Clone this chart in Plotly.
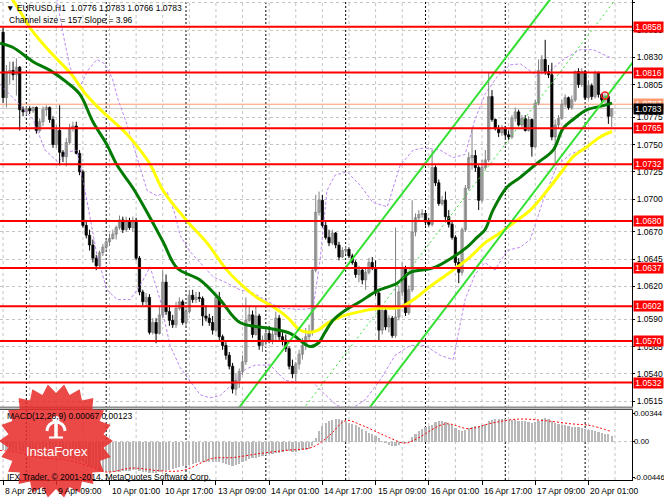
import math
import plotly.graph_objects as go

W, H = 664, 498
PLOT_R = 632  # right edge of chart area (px)

# ---------------- data ----------------
open_ = [
1.0853,1.0793,1.0817,1.0818,1.0814,1.0821,1.0782,1.0780,1.0783,1.0781,
1.0784,1.0763,1.0771,1.0782,1.0784,1.0773,1.0750,1.0763,1.0743,1.0739,
1.0752,1.0765,1.0767,1.0742,1.0725,1.0676,1.0667,1.0658,1.0646,1.0639,
1.0651,1.0656,1.0661,1.0664,1.0668,1.0674,1.0681,1.0672,1.0680,1.0674,
1.0679,1.0646,1.0615,1.0606,1.0610,1.0578,1.0587,1.0577,1.0594,1.0624,
1.0597,1.0589,1.0585,1.0600,1.0606,1.0587,1.0597,1.0612,1.0608,1.0610,
1.0609,1.0593,1.0591,1.0587,1.0580,1.0610,1.0574,1.0566,1.0557,1.0547,
1.0526,1.0534,1.0542,1.0551,1.0589,1.0594,1.0576,1.0593,1.0566,1.0571,
1.0577,1.0571,1.0576,1.0591,1.0574,1.0571,1.0563,1.0547,1.0540,1.0549,
1.0558,1.0566,1.0574,1.0578,1.0635,1.0688,1.0699,1.0676,1.0665,1.0660,
1.0669,1.0658,1.0647,1.0653,1.0654,1.0648,1.0642,1.0631,1.0635,1.0626,
1.0633,1.0642,1.0637,1.0614,1.0580,1.0598,1.0583,1.0591,1.0575,1.0592,
1.0615,1.0637,1.0596,1.0617,1.0670,1.0683,1.0686,1.0687,1.0679,1.0677,
1.0729,1.0715,1.0696,1.0699,1.0684,1.0677,1.0665,1.0642,1.0633,1.0672,
1.0710,1.0738,1.0740,1.0729,1.0699,1.0729,1.0736,1.0794,1.0773,1.0765,
1.0761,1.0765,1.0759,1.0757,1.0774,1.0780,1.0768,1.0774,1.0763,1.0773,
1.0748,1.0788,1.0818,1.0828,1.0817,1.0814,1.0757,1.0768,1.0774,1.0787,
1.0793,1.0784,1.0791,1.0817,1.0805,1.0817,1.0793,1.0804,1.0794,1.0816,
1.0796,1.0791,1.0794,1.0776]
high = [
1.0857,1.0823,1.0826,1.0826,1.0829,1.0822,1.0785,1.0785,1.0785,1.0785,
1.0785,1.0774,1.0785,1.0786,1.0785,1.0776,1.0768,1.0786,1.0745,1.0756,
1.0769,1.0771,1.0771,1.0745,1.0727,1.0681,1.0672,1.0663,1.0649,1.0653,
1.0659,1.0664,1.0668,1.0672,1.0676,1.0685,1.0684,1.0684,1.0683,1.0684,
1.0683,1.0648,1.0617,1.0614,1.0613,1.0591,1.0591,1.0603,1.0635,1.0631,
1.0603,1.0594,1.0606,1.0610,1.0608,1.0600,1.0617,1.0617,1.0615,1.0615,
1.0611,1.0603,1.0595,1.0593,1.0612,1.0615,1.0576,1.0569,1.0560,1.0550,
1.0540,1.0545,1.0557,1.0610,1.0603,1.0598,1.0602,1.0595,1.0575,1.0582,
1.0584,1.0580,1.0597,1.0594,1.0578,1.0576,1.0565,1.0553,1.0551,1.0562,
1.0573,1.0582,1.0585,1.0637,1.0704,1.0707,1.0704,1.0679,1.0672,1.0672,
1.0670,1.0661,1.0656,1.0657,1.0656,1.0650,1.0644,1.0639,1.0637,1.0637,
1.0646,1.0647,1.0644,1.0615,1.0603,1.0600,1.0594,1.0593,1.0674,1.0621,
1.0642,1.0639,1.0621,1.0699,1.0687,1.0690,1.0691,1.0688,1.0683,1.0745,
1.0731,1.0718,1.0703,1.0707,1.0690,1.0679,1.0667,1.0646,1.0674,1.0713,
1.0743,1.0766,1.0745,1.0731,1.0736,1.0745,1.0816,1.0800,1.0774,1.0768,
1.0768,1.0767,1.0763,1.0777,1.0784,1.0782,1.0777,1.0777,1.0776,1.0774,
1.0791,1.0828,1.0832,1.0846,1.0823,1.0825,1.0773,1.0777,1.0791,1.0796,
1.0794,1.0795,1.0818,1.0820,1.0820,1.0818,1.0809,1.0806,1.0818,1.0817,
1.0797,1.0797,1.0795,1.0783]
low = [
1.0788,1.0784,1.0805,1.0809,1.0795,1.0763,1.0776,1.0777,1.0778,1.0779,
1.0760,1.0761,1.0767,1.0776,1.0770,1.0747,1.0747,1.0731,1.0734,1.0730,
1.0750,1.0762,1.0741,1.0722,1.0674,1.0664,1.0653,1.0642,1.0635,1.0637,
1.0648,1.0653,1.0657,1.0663,1.0663,1.0672,1.0669,1.0670,1.0672,1.0670,
1.0644,1.0612,1.0603,1.0602,1.0576,1.0576,1.0568,1.0576,1.0591,1.0594,
1.0584,1.0582,1.0582,1.0598,1.0585,1.0583,1.0595,1.0605,1.0605,1.0606,
1.0584,1.0588,1.0584,1.0576,1.0578,1.0571,1.0562,1.0553,1.0544,1.0522,
1.0520,1.0527,1.0539,1.0548,1.0587,1.0573,1.0575,1.0562,1.0560,1.0566,
1.0568,1.0567,1.0571,1.0571,1.0566,1.0560,1.0544,1.0536,1.0533,1.0544,
1.0553,1.0562,1.0569,1.0575,1.0633,1.0685,1.0674,1.0663,1.0657,1.0658,
1.0655,1.0644,1.0646,1.0650,1.0646,1.0640,1.0628,1.0624,1.0622,1.0617,
1.0631,1.0635,1.0611,1.0571,1.0576,1.0580,1.0578,1.0573,1.0573,1.0589,
1.0611,1.0593,1.0594,1.0615,1.0666,1.0679,1.0683,1.0676,1.0675,1.0675,
1.0712,1.0694,1.0694,1.0681,1.0674,1.0663,1.0639,1.0623,1.0630,1.0670,
1.0708,1.0727,1.0725,1.0690,1.0697,1.0727,1.0734,1.0771,1.0763,1.0757,
1.0758,1.0756,1.0754,1.0755,1.0771,1.0767,1.0766,1.0762,1.0762,1.0739,
1.0747,1.0786,1.0816,1.0814,1.0811,1.0754,1.0733,1.0765,1.0773,1.0784,
1.0782,1.0782,1.0789,1.0802,1.0803,1.0791,1.0791,1.0791,1.0792,1.0793,
1.0788,1.0788,1.0769,1.0766]
close = [
1.0793,1.0817,1.0818,1.0814,1.0821,1.0782,1.0780,1.0783,1.0781,1.0784,
1.0763,1.0771,1.0782,1.0784,1.0773,1.0750,1.0763,1.0743,1.0739,1.0752,
1.0765,1.0767,1.0742,1.0725,1.0676,1.0667,1.0658,1.0646,1.0639,1.0651,
1.0656,1.0661,1.0664,1.0668,1.0674,1.0681,1.0672,1.0680,1.0674,1.0679,
1.0646,1.0615,1.0606,1.0610,1.0578,1.0587,1.0577,1.0594,1.0624,1.0597,
1.0589,1.0585,1.0600,1.0606,1.0587,1.0597,1.0612,1.0608,1.0610,1.0609,
1.0593,1.0591,1.0587,1.0580,1.0610,1.0574,1.0566,1.0557,1.0547,1.0526,
1.0534,1.0542,1.0551,1.0589,1.0594,1.0576,1.0593,1.0566,1.0571,1.0577,
1.0571,1.0576,1.0591,1.0574,1.0571,1.0563,1.0547,1.0540,1.0549,1.0558,
1.0566,1.0574,1.0578,1.0635,1.0688,1.0699,1.0676,1.0665,1.0660,1.0669,
1.0658,1.0647,1.0653,1.0654,1.0648,1.0642,1.0631,1.0635,1.0626,1.0633,
1.0642,1.0637,1.0614,1.0580,1.0598,1.0583,1.0591,1.0575,1.0592,1.0615,
1.0637,1.0596,1.0617,1.0670,1.0683,1.0686,1.0687,1.0679,1.0677,1.0729,
1.0715,1.0696,1.0699,1.0684,1.0677,1.0665,1.0642,1.0633,1.0672,1.0710,
1.0738,1.0740,1.0729,1.0699,1.0729,1.0736,1.0794,1.0773,1.0765,1.0761,
1.0765,1.0759,1.0757,1.0774,1.0780,1.0768,1.0774,1.0763,1.0773,1.0748,
1.0788,1.0818,1.0828,1.0817,1.0814,1.0757,1.0768,1.0774,1.0787,1.0793,
1.0784,1.0791,1.0817,1.0805,1.0817,1.0793,1.0804,1.0794,1.0816,1.0796,
1.0791,1.0794,1.0776,1.0783]
bar_index = list(range(len(close)))

# moving averages (read at sample bars)
ma_fast_x = [-0.9,3.0,9.0,14.1,19.2,23.1,27.0,31.2,34.3,39.1,44.2,48.1,52.3,59.2,65.2,71.2,79.4,86.3,92.3,94.7,96.8,99.2,102.8,107.3,112.5,118.5,122.4,129.3,135.3,139.5,142.5,144.9,147.3,151.5,155.5,160.6,165.4,168.4,171.4,175.6,179.5,183.1]
ma_fast_y = [1.0843,1.0839,1.0826,1.0818,1.0807,1.0796,1.0771,1.0750,1.0731,1.0710,1.0683,1.0661,1.0637,1.0626,1.0608,1.0587,1.0582,1.0577,1.0565,1.0568,1.0578,1.0589,1.0598,1.0606,1.0616,1.0623,1.0633,1.0637,1.0647,1.0656,1.0665,1.0672,1.0690,1.0711,1.0720,1.0733,1.0745,1.0765,1.0773,1.0782,1.0785,1.0788]
ma_slow_x = [0.6,5.7,8.1,14.1,20.1,25.2,30.0,36.1,39.1,44.2,48.1,55.3,61.3,67.3,73.4,77.3,80.3,85.4,89.3,92.3,94.7,97.4,101.3,107.3,113.3,119.4,123.9,128.4,134.4,140.4,144.9,149.4,153.3,158.5,163.6,168.4,171.4,175.6,179.5,183.1]
ma_slow_y = [1.0894,1.0869,1.0857,1.0835,1.0816,1.0795,1.0780,1.0763,1.0753,1.0732,1.0708,1.0680,1.0660,1.0635,1.0617,1.0608,1.0603,1.0592,1.0580,1.0578,1.0580,1.0586,1.0592,1.0597,1.0600,1.0601,1.0609,1.0620,1.0633,1.0647,1.0660,1.0669,1.0678,1.0690,1.0708,1.0727,1.0739,1.0748,1.0757,1.0762]

# Bollinger bands (read at sample bars)
bb_up_x = [11.1,16.2,18.0,20.1,23.1,25.5,28.2,30.6,32.8,34.6,37.3,40.3,43.3,46.3,49.3,51.7,53.2,56.2,59.2,63.1,66.7,71.2,75.2,78.8,83.3,89.3,93.2,95.3,97.4,99.8,103.4,107.3,111.2,115.5,119.4,123.3,126.9,131.4,135.3,138.9,141.9,144.9,148.5,152.4,155.5,160.6,164.5,169.0,173.5,177.4,181.0,183.1]
bb_up_y = [1.0901,1.0883,1.0852,1.0821,1.0803,1.0818,1.0828,1.0824,1.0811,1.0791,1.0768,1.0738,1.0708,1.0703,1.0707,1.0686,1.0667,1.0652,1.0642,1.0629,1.0624,1.0617,1.0614,1.0608,1.0600,1.0599,1.0600,1.0644,1.0708,1.0722,1.0725,1.0713,1.0697,1.0693,1.0731,1.0745,1.0747,1.0745,1.0738,1.0741,1.0773,1.0796,1.0812,1.0823,1.0824,1.0813,1.0818,1.0829,1.0837,1.0837,1.0832,1.0829]
bb_lo_x = [-0.9,3.6,9.0,12.6,16.5,19.2,22.2,25.2,28.2,31.2,34.3,38.2,41.2,44.2,47.2,50.2,53.2,56.2,59.2,62.2,65.2,68.8,72.8,75.8,80.3,84.8,89.3,93.2,96.8,100.4,104.3,108.8,113.3,117.9,122.4,126.9,131.4,135.3,138.9,141.9,144.9,147.9,151.5,155.5,158.5,162.4,166.6,170.5,175.0,179.5,183.1]
bb_lo_y = [1.0805,1.0791,1.0773,1.0745,1.0734,1.0743,1.0745,1.0699,1.0649,1.0617,1.0608,1.0608,1.0621,1.0638,1.0608,1.0566,1.0546,1.0534,1.0521,1.0518,1.0520,1.0530,1.0544,1.0548,1.0548,1.0534,1.0532,1.0532,1.0521,1.0511,1.0507,1.0516,1.0534,1.0557,1.0566,1.0566,1.0557,1.0553,1.0608,1.0631,1.0642,1.0635,1.0653,1.0656,1.0663,1.0699,1.0731,1.0741,1.0747,1.0756,1.0762]

# regression channel (157 pips wide, slope 3.96)
chan_x = [60, 190]
chan_lower = [1.03083, 1.08280]
chan_mid = [1.03868, 1.09065]
chan_upper = [1.04653, 1.09850]

# horizontal support / resistance levels
levels = [1.0858, 1.0816, 1.0765, 1.0732, 1.0680, 1.0637, 1.0602, 1.0570, 1.0532]
level_text = ["1.0858", "1.0816", "1.0765", "1.0732", "1.0680", "1.0637", "1.0602", "1.0570", "1.0532"]
bid_price = 1.0783
ask_price = 1.0787

price_ticks = [1.0880, 1.0855, 1.0830, 1.0805, 1.0775, 1.0750, 1.0725, 1.0700, 1.0670, 1.0645, 1.0620, 1.0590, 1.0565, 1.0540, 1.0515]
price_tick_text = ["", "1.0855", "1.0830", "1.0805", "1.0775", "1.0750", "1.0725", "1.0700", "1.0670", "1.0645", "1.0620", "1.0590", "1.0565", "1.0540", "1.0515"]

x_tick_pos = [0, 16, 32, 48, 64, 80, 96, 112, 128, 144, 160, 176]
x_tick_text = ["8 Apr 2015", "9 Apr 09:00", "10 Apr 01:00", "10 Apr 17:00", "13 Apr 09:00", "14 Apr 01:00",
               "14 Apr 17:00", "15 Apr 09:00", "16 Apr 01:00", "16 Apr 17:00", "17 Apr 09:00", "20 Apr 01:00"]
grid_x = list(range(0, 190, 8))
day_separators = [7, 31, 55, 79, 103, 127, 151, 175]

# MACD histogram (per bar) and signal line (sampled)
macd_hist = [
-0.0010,-0.0010,-0.0011,-0.0011,-0.0012,-0.0012,-0.0013,-0.0013,-0.0014,-0.0014,
-0.0015,-0.0015,-0.0016,-0.0016,-0.0017,-0.0018,-0.0019,-0.0020,-0.0021,-0.0021,
-0.0022,-0.0022,-0.0023,-0.0024,-0.0026,-0.0028,-0.0030,-0.0032,-0.0034,-0.0036,
-0.0037,-0.0038,-0.0038,-0.0038,-0.0038,-0.0038,-0.0037,-0.0037,-0.0037,-0.0036,
-0.0036,-0.0037,-0.0038,-0.0038,-0.0039,-0.0039,-0.0039,-0.0038,-0.0037,-0.0036,
-0.0035,-0.0034,-0.0033,-0.0032,-0.0031,-0.0030,-0.0029,-0.0028,-0.0027,-0.0026,
-0.0026,-0.0025,-0.0025,-0.0025,-0.0025,-0.0026,-0.0027,-0.0028,-0.0029,-0.0030,
-0.0029,-0.0028,-0.0026,-0.0024,-0.0022,-0.0021,-0.0020,-0.0019,-0.0018,-0.0017,
-0.0016,-0.0015,-0.0014,-0.0014,-0.0013,-0.0012,-0.0012,-0.0013,-0.0013,-0.0012,
-0.0011,-0.0010,-0.0009,-0.0005,0.0005,0.0013,0.0019,0.0023,0.0025,0.0027,
0.0028,0.0028,0.0027,0.0025,0.0023,0.0022,0.0020,0.0018,0.0016,0.0013,
0.0011,0.0009,0.0007,0.0004,0.0001,-0.0002,-0.0004,-0.0005,-0.0006,-0.0004,
-0.0002,-0.0002,0.0001,0.0006,0.0010,0.0013,0.0016,0.0018,0.0019,0.0021,
0.0024,0.0025,0.0025,0.0024,0.0022,0.0020,0.0017,0.0014,0.0013,0.0014,
0.0017,0.0018,0.0019,0.0019,0.0020,0.0022,0.0025,0.0027,0.0028,0.0028,
0.0028,0.0028,0.0027,0.0027,0.0027,0.0026,0.0026,0.0025,0.0024,0.0023,
0.0024,0.0026,0.0028,0.0029,0.0028,0.0025,0.0023,0.0022,0.0021,0.0020,
0.0019,0.0018,0.0018,0.0018,0.0017,0.0016,0.0015,0.0014,0.0013,0.0012,
0.0011,0.0010,0.0009,0.00067]
signal_x = [-0.9,5,11,19,27,31,39,46,54,63,69,77,85,93,98,103,108,115,121,125,133,140,147,155,163,171,176.5,183]
signal_y = [-0.0011,-0.0014,-0.0020,-0.0023,-0.0032,-0.0038,-0.0033,-0.0036,-0.0036,-0.0021,-0.0020,-0.0015,-0.0011,-0.0007,0.0007,0.0026,0.0020,0.0007,-0.0002,0.0005,0.0022,0.0016,0.0023,0.0028,0.0026,0.0022,0.0020,0.00123]
macd_ticks = [0.00344, 0.0, -0.00446]
macd_tick_text = ["0.00344", "0.00", "-0.00446"]

header_text = "▼ EURUSD,H1  1.0776 1.0783 1.0766 1.0783"
channel_text = "Channel size = 157 Slope = 3.96"
macd_text = "MACD(12,26,9) 0.00067 0.00123"
copyright_text = "IFX Trader, © 2001-2014, MetaQuotes Software Corp."
alert_x, alert_y = 181, 1.0795

# ---------------- helpers ----------------
def px(x):
    return x / W

def py(y):
    return 1 - y / H

FONT = "Liberation Sans"
XR = [-0.93, 189.1]
Y1 = [1.05096, 1.08825]
Y2 = [-0.00479, 0.00393]

fig = go.Figure()

# Bollinger bands
for bx, by in ((bb_up_x, bb_up_y), (bb_lo_x, bb_lo_y)):
    fig.add_trace(go.Scatter(x=bx, y=by, mode="lines", line=dict(color="#bd86f0", width=1, dash="3px,2px"),
                             xaxis="x", yaxis="y", hoverinfo="skip"))

# candles
bull = [i for i in bar_index if close[i] >= open_[i]]
bear = [i for i in bar_index if close[i] < open_[i]]
for idxs, wc in ((bull, "#808080"), (bear, "#000000")):
    wx, wy = [], []
    for i in idxs:
        wx += [i, i, None]
        wy += [low[i], high[i], None]
    fig.add_trace(go.Scatter(x=wx, y=wy, mode="lines", line=dict(color=wc, width=1),
                             xaxis="x", yaxis="y", hoverinfo="skip"))
for idxs, fc, lc in ((bull, "#c8c8c8", "#7a7a7a"), (bear, "#000000", "#000000")):
    fig.add_trace(go.Bar(x=idxs,
                         y=[max(abs(close[i] - open_[i]), 0.00008) for i in idxs],
                         base=[min(close[i], open_[i]) for i in idxs],
                         width=0.7, marker=dict(color=fc, line=dict(color=lc, width=0.7)),
                         xaxis="x", yaxis="y", hoverinfo="skip"))

# moving averages
fig.add_trace(go.Scatter(x=ma_slow_x, y=ma_slow_y, mode="lines", line=dict(color="#ffff00", width=3, shape="spline"),
                         xaxis="x", yaxis="y", hoverinfo="skip"))
fig.add_trace(go.Scatter(x=ma_fast_x, y=ma_fast_y, mode="lines", line=dict(color="#007a00", width=3, shape="spline"),
                         xaxis="x", yaxis="y", hoverinfo="skip"))

# channel
fig.add_trace(go.Scatter(x=chan_x, y=chan_lower, mode="lines", line=dict(color="#33e033", width=2),
                         xaxis="x", yaxis="y", hoverinfo="skip"))
fig.add_trace(go.Scatter(x=chan_x, y=chan_upper, mode="lines", line=dict(color="#33e033", width=2),
                         xaxis="x", yaxis="y", hoverinfo="skip"))
fig.add_trace(go.Scatter(x=chan_x, y=chan_mid, mode="lines", line=dict(color="#33e033", width=1, dash="2px,3px"),
                         xaxis="x", yaxis="y", hoverinfo="skip"))

# alert marker
fig.add_trace(go.Scatter(x=[alert_x], y=[alert_y], mode="markers",
                         marker=dict(symbol="circle-open", size=7, color="#ff2020", line=dict(width=1.5)),
                         xaxis="x", yaxis="y", hoverinfo="skip"))

# MACD
fig.add_trace(go.Bar(x=bar_index, y=macd_hist, width=0.66, marker=dict(color="#b8b8b8", line=dict(width=0)),
                     xaxis="x2", yaxis="y2", hoverinfo="skip"))
fig.add_trace(go.Scatter(x=signal_x, y=signal_y, mode="lines",
                         line=dict(color="#ff0000", width=1, dash="2px,2px", shape="spline"),
                         xaxis="x2", yaxis="y2", hoverinfo="skip"))

shapes = []
# vertical grid (both panels)
for g in grid_x:
    shapes.append(dict(type="line", xref="x", yref="paper", x0=g, x1=g, y0=py(480), y1=py(0),
                       line=dict(color="#c4c4c4", width=1, dash="3px,3px"), layer="below"))
# day separators
for d in day_separators:
    shapes.append(dict(type="line", xref="x", yref="paper", x0=d, x1=d, y0=py(480), y1=py(0),
                       line=dict(color="#000000", width=1, dash="2px,2px"), layer="below"))
# MACD zero line
shapes.append(dict(type="line", xref="paper", yref="y2", x0=0, x1=px(PLOT_R), y0=0, y1=0,
                   line=dict(color="#c4c4c4", width=1, dash="3px,3px"), layer="below"))
# bid / ask lines
shapes.append(dict(type="line", xref="paper", yref="y", x0=0, x1=px(PLOT_R), y0=bid_price, y1=bid_price,
                   line=dict(color="#c8c8c8", width=1), layer="below"))
shapes.append(dict(type="line", xref="paper", yref="y", x0=0, x1=px(PLOT_R), y0=ask_price, y1=ask_price,
                   line=dict(color="#ff9a70", width=1), layer="below"))
# level lines
for lv in levels:
    shapes.append(dict(type="line", xref="paper", yref="y", x0=0, x1=px(PLOT_R), y0=lv, y1=lv,
                       line=dict(color="#ff0000", width=2), layer="above"))
# panel separator
shapes.append(dict(type="line", xref="paper", yref="paper", x0=0, x1=px(PLOT_R + 1), y0=py(407.5), y1=py(407.5),
                   line=dict(color="#8c8c8c", width=2), layer="above"))
shapes.append(dict(type="line", xref="paper", yref="paper", x0=0, x1=px(PLOT_R + 1), y0=py(409.5), y1=py(409.5),
                   line=dict(color="#505050", width=1), layer="above"))

# InstaForex watermark (starburst)
cx, cy, R1, R2, n = 56, 441, 57, 48, 22
pts = []
for k in range(2 * n):
    r = R1 if k % 2 == 0 else R2
    a = math.pi * k / n
    pts.append((px(cx + r * math.cos(a)), py(cy + r * math.sin(a))))
path = "M " + " L ".join(f"{x:.5f},{y:.5f}" for x, y in pts) + " Z"
shapes.append(dict(type="path", xref="paper", yref="paper", path=path,
                   fillcolor="rgba(232,40,40,0.85)", line=dict(width=0), layer="above"))
# logo icon
shapes.append(dict(type="circle", xref="paper", yref="paper", x0=px(52.5), x1=px(59.5), y0=py(423), y1=py(416),
                   fillcolor="white", line=dict(width=0), layer="above"))
arc = []
for k in range(0, 13):
    a = math.pi + math.pi * k / 12
    arc.append((px(56 + 9 * math.cos(a)), py(431 + 9 * math.sin(a))))
arc_path = "M " + " L ".join(f"{x:.5f},{y:.5f}" for x, y in arc)
shapes.append(dict(type="path", xref="paper", yref="paper", path=arc_path,
                   line=dict(color="white", width=3), layer="above"))
shapes.append(dict(type="line", xref="paper", yref="paper", x0=px(56), x1=px(56), y0=py(422), y1=py(438),
                   line=dict(color="white", width=3.5), layer="above"))
shapes.append(dict(type="line", xref="paper", yref="paper", x0=px(49), x1=px(63), y0=py(437.5), y1=py(437.5),
                   line=dict(color="white", width=2), layer="above"))

annotations = []
lab_font = dict(family=FONT, size=8.5, color="white")
annotations.append(dict(x=px(633), y=ask_price, xref="paper", yref="y", xanchor="left", yanchor="middle",
                        text="1.0787", showarrow=False, bgcolor="#ff9a70", width=29, height=10,
                        borderpad=0, font=lab_font))
for lv, t in zip(levels, level_text):
    annotations.append(dict(x=px(633), y=lv, xref="paper", yref="y", xanchor="left", yanchor="middle",
                            text=t, showarrow=False, bgcolor="#ff0000", width=29, height=10,
                            borderpad=0, font=lab_font))
annotations.append(dict(x=px(633), y=bid_price, xref="paper", yref="y", xanchor="left", yanchor="middle",
                        text="1.0783", showarrow=False, bgcolor="#000000", width=29, height=10,
                        borderpad=0, font=lab_font))
# MACD axis labels (tight right edge)
for v, t in zip(macd_ticks, macd_tick_text):
    annotations.append(dict(x=px(632.5), y=v, xref="paper", yref="y2", xanchor="left", yanchor="middle",
                            text=t, showarrow=False, borderpad=0,
                            font=dict(family=FONT, size=7.8, color="black")))
# time axis labels (drawn above the watermark)
axis_font = dict(family=FONT, size=8.5, color="black")
for xv, t in zip(x_tick_pos, x_tick_text):
    annotations.append(dict(x=xv, y=py(490.5), xref="x2", yref="paper", xanchor="left", yanchor="middle",
                            text=t, showarrow=False, borderpad=0, xshift=1, font=axis_font))
txt_font = dict(family=FONT, size=8.5, color="black")
annotations.append(dict(x=px(4), y=py(8), xref="paper", yref="paper", xanchor="left", yanchor="middle",
                        text=header_text, showarrow=False, font=txt_font))
annotations.append(dict(x=px(7), y=py(19.5), xref="paper", yref="paper", xanchor="left", yanchor="middle",
                        text=channel_text, showarrow=False, font=txt_font))
annotations.append(dict(x=px(5), y=py(416), xref="paper", yref="paper", xanchor="left", yanchor="middle",
                        text=macd_text, showarrow=False, font=txt_font))
annotations.append(dict(x=px(5), y=py(476.5), xref="paper", yref="paper", xanchor="left", yanchor="middle",
                        text=copyright_text, showarrow=False, font=txt_font))
annotations.append(dict(x=px(57), y=py(451), xref="paper", yref="paper", xanchor="center", yanchor="middle",
                        text="InstaForex", showarrow=False, font=dict(family=FONT, size=13, color="white")))

fig.update_layout(
    width=W, height=H, margin=dict(l=0, r=0, t=0, b=0, autoexpand=False),
    paper_bgcolor="white", plot_bgcolor="white",
    showlegend=False, hovermode=False, barmode="overlay", bargap=0,
    xaxis=dict(domain=[0, px(PLOT_R)], range=XR, anchor="y", showgrid=False, zeroline=False, automargin=False,
               showticklabels=False, ticks="", showline=False, fixedrange=True),
    yaxis=dict(domain=[py(407), 1], range=Y1, side="right", anchor="x", automargin=False,
               tickvals=price_ticks, ticktext=price_tick_text, ticks="outside", ticklen=2, tickcolor="black",
               tickfont=axis_font, showgrid=True, gridcolor="#c4c4c4", griddash="3px,3px", gridwidth=1,
               zeroline=False, showline=True, linecolor="black", linewidth=1),
    xaxis2=dict(domain=[0, px(PLOT_R)], range=XR, anchor="y2", showgrid=False, zeroline=False, automargin=False,
                tickvals=x_tick_pos, showticklabels=False, ticks="outside", ticklen=4, tickcolor="black",
                showline=True, linecolor="black", linewidth=1),
    yaxis2=dict(domain=[py(480), py(410)], range=Y2, side="right", anchor="x2", automargin=False,
                tickvals=macd_ticks, showticklabels=False, ticks="outside", ticklen=2, tickcolor="black",
                showgrid=False, zeroline=False, showline=True, linecolor="black", linewidth=1),
    shapes=shapes, annotations=annotations,
)

fig.write_html("out.html", config={"displayModeBar": False, "staticPlot": True},
               post_script="document.body.style.margin='0';document.body.style.overflow='hidden';")
